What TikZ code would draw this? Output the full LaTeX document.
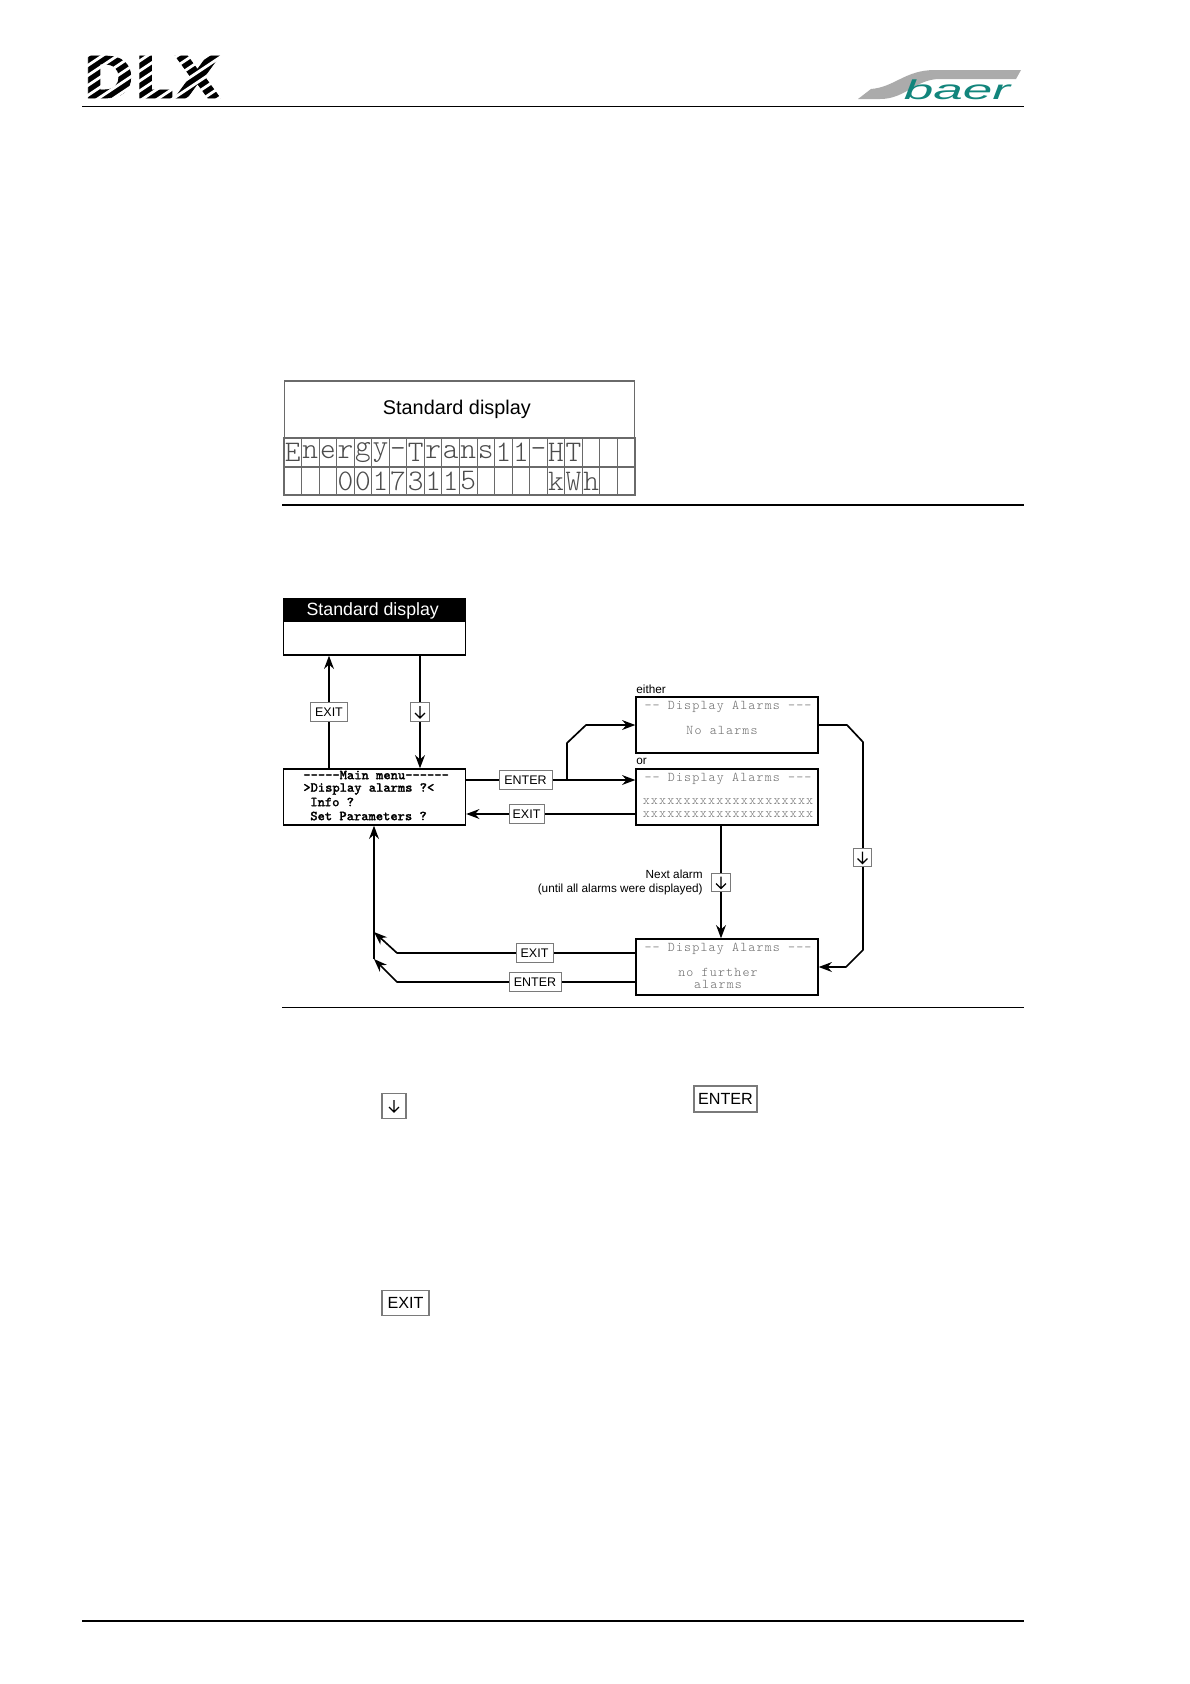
\documentclass[tikz,border=0pt]{standalone}
\usepackage{fontspec}
\setmainfont{Liberation Sans}
\setsansfont{Liberation Sans}
\newfontfamily\dlxfont{DejaVu Sans}[FakeBold=1.2]
\newfontfamily\menufont{Latin Modern Mono}[FakeBold=1.6]
\newfontfamily\alarmfont{Latin Modern Mono Light}[LetterSpace=8.7]
\usepackage{xcolor}
\usetikzlibrary{arrows.meta, positioning, calc, backgrounds}
\definecolor{baerTeal}{HTML}{12857C}
\definecolor{baerGrey}{HTML}{ABABAB}
\definecolor{inkDim}{HTML}{6A6A6A}
\definecolor{keyEdge}{HTML}{7A7A7A}
\newcommand{\lifted}[2]{\raisebox{#1}[7pt][2pt]{#2}}
\tikzset{
  rule/.style={line width=0.6pt, color=black},
  lcdcell/.style={draw=inkDim, line width=0.6pt, inner sep=0pt, minimum width=0.351cm,
                  font=\ttfamily\fontseries{l}\selectfont\fontsize{17}{17}\selectfont, text=black!70},
  screen/.style={draw=black, line width=0.8pt, fill=white, inner sep=0pt,
                 minimum width=3.64cm, minimum height=1.12cm},
  alarmtext/.style={inner sep=0pt, text=inkDim, font=\alarmfont\fontsize{7.6}{7.6}\selectfont},
  menutext/.style={inner sep=0pt, anchor=west, font=\menufont\fontsize{7.8}{7.8}\selectfont},
  note/.style={inner sep=0pt, font=\fontsize{6.7}{6.7}\selectfont},
  keysmall/.style={draw=keyEdge, line width=0.5pt, fill=white, inner sep=0pt,
                   minimum height=0.37cm, font=\fontsize{7.1}{7.1}\selectfont},
  keylarge/.style={draw=keyEdge, line width=0.6pt, fill=white, inner sep=0pt,
                   minimum height=0.49cm, font=\fontsize{9.2}{9.2}\selectfont},
  keydown/.style={path picture={\draw[draw=black, line width=0.7pt, shift={(path picture bounding box.center)}, scale=#1]
                  (0,-6) -- (0,6) (-5,1) -- (0,6) -- (5,1);}},
  arrow/.style={-{Stealth[length=7.5pt,width=5.6pt]}, line width=0.95pt},
}

\begin{document}
\begin{tikzpicture}[x=0.02cm, y=-0.02cm]
\useasboundingbox (0,0) rectangle (1190,1684);

% logos
\node[inner sep=0pt, font=\dlxfont\bfseries\fontsize{33}{33}\selectfont, xscale=1.07] (dlxlogo) at (152,77) {DLX};
\foreach \y in {62,72,...,222}{
  \draw[white, line width=1.6pt] (78,\y) -- (228,{\y-100});
}
\fill[baerGrey] (858,99) -- (871,89) .. controls (895,87) and (905,70) .. (935,70)
  -- (1021,70) -- (1016,79) -- (938,79) .. controls (915,80) and (905,99) .. (880,99) -- cycle;
\node[inner sep=0pt, text=baerTeal, font=\itshape\fontsize{15.5}{15.5}\selectfont, xscale=1.95] (baerlogo) at (957,90) {baer};

% page rules
\draw[rule] (82,106.5) -- (1024,106.5);
\draw[rule] (282,505) -- (1024,505);
\draw[rule] (282,1007.5) -- (1024,1007.5);
\draw[rule] (82,1621) -- (1024,1621);

% standard display with its lcd rows
\node[draw=inkDim, line width=0.6pt, inner sep=0pt, minimum width=7.02cm, minimum height=1.14cm,
      font=\fontsize{11.3}{11.3}\selectfont] (stdlcd) at (459.5,409.5) {\lifted{-0.6pt}{Standard display\hspace{3pt}}};
\foreach \ch [count=\i] in {E,n,e,r,g,y,-,T,r,a,n,s,1,1,-,H,T,{},{},{}}{
  \node[lcdcell, minimum height=0.58cm] (lcdtop\i) at ({284+17.55*(\i-0.5)},452.5) {\ch};
}
\foreach \ch [count=\i] in {{},{},{},0,0,1,7,3,1,1,5,{},{},{},{},k,W,h,{},{}}{
  \node[lcdcell, minimum height=0.56cm] (lcdlow\i) at ({284+17.55*(\i-0.5)},481) {\ch};
}

% screens
\node[screen] (stdbox) at (374.5,627) {};
\node[draw=black, fill=black, line width=0.8pt, inner sep=0pt, minimum width=3.64cm, minimum height=0.47cm,
      text=white, font=\fontsize{10.1}{10.1}\selectfont] (stdhead) at (374.5,610) {\lifted{-0.8pt}{Standard display\hspace{2pt}}};
\node[screen] (menubox) at (374.5,797) {};
\node[menutext] (menuA) at (303,775) {-----Main menu------};
\node[menutext] (menuB) at (303,789) {>Display alarms ?<};
\node[menutext] (menuC) at (310,802) {Info ?};
\node[menutext] (menuD) at (310,816) {Set Parameters ?};

\node[screen] (alarmnone) at (727,725) {};
\node[alarmtext] (alarmnoneA) at (728,707) {-- Display Alarms ---};
\node[alarmtext] (alarmnoneB) at (722,730) {No alarms};
\node[screen] (alarmlist) at (727,797) {};
\node[alarmtext] (alarmlistA) at (728,779) {-- Display Alarms ---};
\node[alarmtext] (alarmlistB) at (728,802) {xxxxxxxxxxxxxxxxxxxxx};
\node[alarmtext] (alarmlistC) at (728,815) {xxxxxxxxxxxxxxxxxxxxx};
\node[screen] (alarmend) at (727,967) {};
\node[alarmtext] (alarmendA) at (728,949) {-- Display Alarms ---};
\node[alarmtext] (alarmendB) at (718,972) {no further};
\node[alarmtext] (alarmendC) at (718,984) {alarms};

\node[note, anchor=west] (eithernote) at (636,689) {either};
\node[note, anchor=west] (ornote) at (636,761) {or};
\node[note, anchor=east] (nextnote) at (703,874) {Next alarm};
\node[note, anchor=east] (untilnote) at (703,889) {(until all alarms were displayed)};

% keys in the diagram
\node[keysmall, minimum width=0.74cm] (exitA) at (329,712) {EXIT};
\node[keysmall, minimum width=0.37cm, keydown=1] (downA) at (420,712) {};
\node[keysmall, minimum width=1.06cm] (enterA) at (525.5,780) {ENTER};
\node[keysmall, minimum width=0.7cm] (exitB) at (526.5,814) {EXIT};
\node[keysmall, minimum width=0.37cm, keydown=1] (downB) at (721,882.5) {};
\node[keysmall, minimum width=0.37cm, keydown=1] (downC) at (862.5,857.5) {};
\node[keysmall, minimum width=0.74cm] (exitC) at (534.5,953) {EXIT};
\node[keysmall, minimum width=1.04cm] (enterB) at (535,982) {ENTER};

% keys below the diagram
\node[keylarge, minimum width=0.48cm, keydown=1.3] (downkey) at (394,1106) {};
\node[keylarge, minimum width=1.26cm, minimum height=0.52cm] (enterkey) at (725.5,1099) {\lifted{-0.6pt}{ENTER}};
\node[keylarge, minimum width=0.94cm] (exitkey) at (405.5,1303) {\lifted{-0.6pt}{EXIT}};

% connectors
\coordinate (branch) at (567,780);
\coordinate (elbowA) at (567,743);
\coordinate (elbowB) at (586,725);
\coordinate (elbowC) at (847,725);
\coordinate (elbowD) at (863,742);
\coordinate (elbowE) at (863,950);
\coordinate (elbowF) at (846,967);
\coordinate (joinA) at (374,932);
\coordinate (joinB) at (374,959);
\coordinate (elbowG) at (397,953);
\coordinate (elbowH) at (397,982);
\begin{scope}[on background layer]
\fill[white] (0,0) rectangle (1190,1684);
\draw[arrow] (menubox.north -| exitA.center) -- (stdbox.south -| exitA.center);
\draw[arrow] (stdbox.south -| downA.center) -- (menubox.north -| downA.center);
\draw[arrow] (menubox.east |- enterA.center) -- (alarmlist.west |- enterA.center);
\draw[arrow, line join=bevel] (branch) -- (elbowA) -- (elbowB) -- (alarmnone.west |- elbowB);
\draw[arrow] (alarmlist.west |- exitB.center) -- (menubox.east |- exitB.center);
\draw[arrow] (alarmlist.south -| downB.center) -- (alarmend.north -| downB.center);
\draw[arrow, line join=bevel] (alarmnone.east |- elbowC) -- (elbowC) -- (elbowD) -- (elbowE) -- (elbowF) -- (alarmend.east |- elbowF);
\draw[arrow, line join=bevel] (alarmend.west |- exitC.center) -- (elbowG) -- (joinA);
\draw[arrow, line join=bevel] (alarmend.west |- enterB.center) -- (elbowH) -- (joinB);
\draw[arrow] (joinB) -- (menubox.south -| joinB);
\end{scope}
\end{tikzpicture}
\end{document}
